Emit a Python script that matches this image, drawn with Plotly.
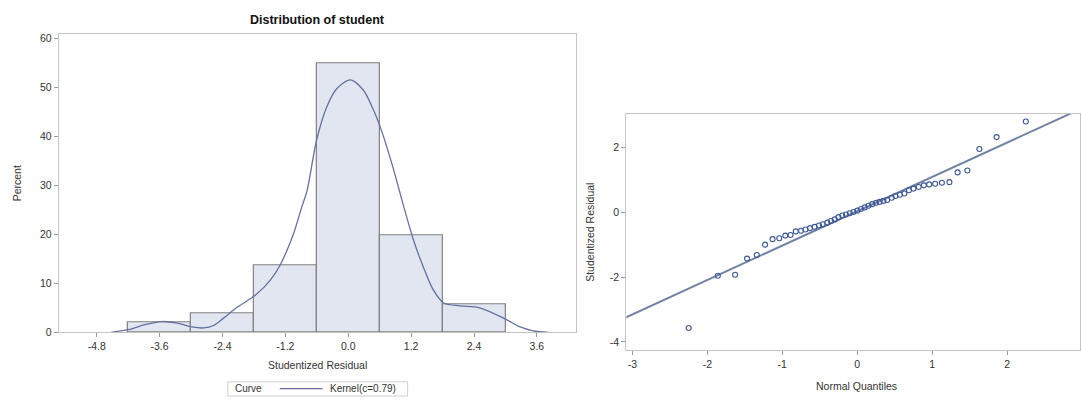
import plotly.graph_objects as go

# ---------------- data ----------------
# Histogram of studentized residuals (bin midpoints, percent)
bin_mid = [-3.6, -2.4, -1.2, 0.0, 1.2, 2.4]
bin_pct = [2.0, 3.9, 13.7, 54.9, 19.7, 5.8]
bin_width = 1.2

# Kernel density curve
kern_x = [-4.53, -4.17, -3.90, -3.56, -3.26, -2.98, -2.76, -2.57, -2.38, -2.12,
          -1.77, -1.49, -1.30, -1.17, -1.04, -0.88, -0.79, -0.60, -0.41, -0.22,
          0.04, 0.29, 0.48, 0.64, 0.86, 1.05, 1.24, 1.43, 1.62, 1.82,
          2.13, 2.51, 3.00, 3.28, 3.53, 3.82]
kern_y = [0.0, 0.6, 1.5, 2.2, 1.9, 1.1, 0.9, 1.4, 2.9, 5.1,
          7.6, 10.6, 13.7, 16.7, 20.2, 25.8, 28.7, 39.4, 46.0, 49.7,
          51.5, 49.4, 45.4, 41.0, 33.4, 26.0, 19.0, 13.4, 8.7, 6.0,
          5.4, 5.0, 2.7, 1.1, 0.3, 0.0]

hist_xticks = [-4.8, -3.6, -2.4, -1.2, 0.0, 1.2, 2.4, 3.6]
hist_xlabels = ["-4.8", "-3.6", "-2.4", "-1.2", "0.0", "1.2", "2.4", "3.6"]
hist_yticks = [0, 10, 20, 30, 40, 50, 60]

# Q-Q plot: normal quantiles and sorted studentized residuals
qq_x = [-2.25, -1.86, -1.63, -1.47, -1.34, -1.23, -1.13, -1.04, -0.96, -0.89,
        -0.82, -0.75, -0.69, -0.63, -0.57, -0.51, -0.46, -0.40, -0.35, -0.30,
        -0.25, -0.20, -0.15, -0.10, -0.05, 0.00, 0.05, 0.10, 0.15, 0.20,
        0.25, 0.30, 0.35, 0.40, 0.46, 0.51, 0.57, 0.63, 0.69, 0.75,
        0.82, 0.89, 0.96, 1.04, 1.13, 1.23, 1.34, 1.47, 1.63, 1.86, 2.25]
qq_y = [-3.57, -1.96, -1.93, -1.43, -1.32, -1.00, -0.83, -0.80, -0.72, -0.70,
        -0.59, -0.57, -0.53, -0.49, -0.45, -0.41, -0.37, -0.32, -0.27, -0.22,
        -0.15, -0.10, -0.07, -0.03, 0.01, 0.05, 0.10, 0.15, 0.20, 0.25,
        0.29, 0.32, 0.35, 0.38, 0.45, 0.50, 0.54, 0.58, 0.68, 0.73,
        0.78, 0.83, 0.86, 0.88, 0.91, 0.93, 1.23, 1.29, 1.95, 2.32, 2.80]
ref_mu = 0.03
ref_sigma = 1.06
ref_x = [-3.4, 3.4]

qq_xticks = [-3, -2, -1, 0, 1, 2]
qq_xlabels = ["-3", "-2", "-1", "0", "1", "2"]
qq_yticks = [-4, -2, 0, 2]
qq_ylabels = ["-4", "-2", "0", "2"]

# ---------------- styles ----------------
W, H = 1081, 405
FONT = "Liberation Sans, Arial, sans-serif"
frame_col = "#c4c4c4"
tick_col = "#333333"
bar_fill = "#e2e6f1"
bar_line = "#808080"
curve_col = "#6470a0"
marker_col = "#3c5896"
refline_col = "#7282a2"


def px_x(p):
    return p / W


def px_y(p):
    return 1 - p / H


fig = go.Figure()

fig.add_trace(go.Bar(
    x=bin_mid, y=bin_pct, width=bin_width,
    marker=dict(color=bar_fill, line=dict(color=bar_line, width=1.2)),
    xaxis="x", yaxis="y", showlegend=False, hoverinfo="skip"))

fig.add_trace(go.Scatter(
    x=kern_x, y=kern_y, mode="lines",
    line=dict(color=curve_col, width=1.3, shape="spline", smoothing=0.8),
    xaxis="x", yaxis="y", showlegend=False))

ref_y = [ref_mu + ref_sigma * v for v in ref_x]
fig.add_trace(go.Scatter(
    x=ref_x, y=ref_y, mode="lines",
    line=dict(color=refline_col, width=2),
    xaxis="x2", yaxis="y2", showlegend=False))

fig.add_trace(go.Scatter(
    x=qq_x, y=qq_y, mode="markers",
    marker=dict(symbol="circle-open", size=5, color=marker_col,
                line=dict(width=1.1, color=marker_col)),
    xaxis="x2", yaxis="y2", showlegend=False, cliponaxis=False))

axis_common = dict(showline=True, linecolor=frame_col, linewidth=1.3, mirror=True,
                   showgrid=False, zeroline=False, ticks="outside", ticklen=4,
                   tickcolor="#9a9a9a", tickwidth=1,
                   tickfont=dict(family=FONT, size=10.5, color=tick_col))

fig.update_layout(
    width=W, height=H,
    margin=dict(l=0, r=0, t=0, b=0),
    paper_bgcolor="white", plot_bgcolor="white",
    bargap=0,
    xaxis=dict(domain=[px_x(59), px_x(577)], range=[-5.52, 4.355],
               tickvals=hist_xticks, ticktext=hist_xlabels, anchor="y", **axis_common),
    yaxis=dict(domain=[px_y(337), px_y(33)], range=[0, 60.8],
               tickvals=hist_yticks, anchor="x", **axis_common),
    xaxis2=dict(domain=[px_x(627), 1.0], range=[-3.08, 2.973],
                tickvals=qq_xticks, ticktext=qq_xlabels, anchor="y2", **axis_common),
    yaxis2=dict(domain=[px_y(355), px_y(114)], range=[-4.25, 3.04],
                tickvals=qq_yticks, ticktext=qq_ylabels, anchor="x2", **axis_common),
)

annos = [
    dict(text="<b>Distribution of student</b>", x=px_x(318), y=px_y(18),
         font=dict(size=12.5, color="#111111")),
    dict(text="Percent", x=px_x(17), y=px_y(185), textangle=-90,
         font=dict(size=10.5, color=tick_col)),
    dict(text="Studentized Residual", x=px_x(318), y=px_y(370),
         font=dict(size=10.5, color=tick_col)),
    dict(text="Studentized Residual", x=px_x(591), y=px_y(235), textangle=-90,
         font=dict(size=10.5, color=tick_col)),
    dict(text="Normal Quantiles", x=px_x(857), y=px_y(392),
         font=dict(size=10.5, color=tick_col)),
    dict(text="Curve", x=px_x(233), y=px_y(394.5), xanchor="left",
         font=dict(size=10, color=tick_col)),
    dict(text="Kernel(c=0.79)", x=px_x(328), y=px_y(394.5), xanchor="left",
         font=dict(size=10, color=tick_col)),
]
for a in annos:
    a.setdefault("xanchor", "center")
    fig.add_annotation(xref="paper", yref="paper", showarrow=False,
                       yanchor="middle", font_family=FONT, **a)

# legend frame and sample line
fig.add_shape(type="rect", xref="paper", yref="paper",
              x0=px_x(228), x1=px_x(408), y0=px_y(402), y1=px_y(387.5),
              line=dict(color="#cfcfcf", width=1))
fig.add_shape(type="line", xref="paper", yref="paper",
              x0=px_x(280), x1=px_x(323), y0=px_y(394.5), y1=px_y(394.5),
              line=dict(color=curve_col, width=1.3))

fig.write_html("out.html")
